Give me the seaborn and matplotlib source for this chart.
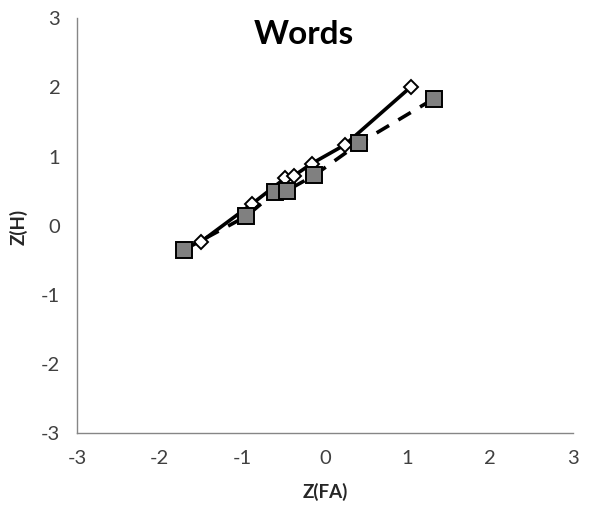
import matplotlib
matplotlib.use("Agg")
import pandas as pd
import seaborn as sns
import matplotlib.pyplot as plt

fa_words_a = [-1.50, -0.88, -0.48, -0.38, -0.16, 0.24, 1.04]
h_words_a = [-0.23, 0.32, 0.69, 0.72, 0.90, 1.17, 2.01]
fa_words_b = [-1.71, -0.95, -0.60, -0.46, -0.13, 0.41, 1.32]
h_words_b = [-0.35, 0.14, 0.49, 0.51, 0.73, 1.19, 1.84]
ticks = [-3, -2, -1, 0, 1, 2, 3]

dfA = pd.DataFrame({'FA': fa_words_a, 'H': h_words_a})
dfB = pd.DataFrame({'FA': fa_words_b, 'H': h_words_b})

sns.set_style('white')
plt.rcParams['font.family'] = ['Lato', 'DejaVu Sans']

fig = plt.figure(figsize=(5.94, 5.11), dpi=100)
ax = fig.add_axes([77 / 594, 1 - 433.3 / 511, 496 / 594, 415 / 511])

sns.lineplot(data=dfA, x='FA', y='H', sort=False, ax=ax, color='black',
             linewidth=2.6, marker='D', markersize=7.6,
             markerfacecolor='white', markeredgecolor='black', markeredgewidth=1.4, zorder=3)
sns.lineplot(data=dfB, x='FA', y='H', sort=False, ax=ax, color='black',
             linewidth=2.6, linestyle=(0, (4, 3)), marker='s', markersize=11.5,
             markerfacecolor='#808080', markeredgecolor='black', markeredgewidth=1.4, zorder=4)

ax.set_xlim(-3, 3)
ax.set_ylim(-3, 3)
ax.set_xticks(ticks)
ax.set_yticks(ticks)
ax.set_xticklabels([str(t) for t in ticks])
ax.set_yticklabels([str(t) for t in ticks])
ax.set_xlabel('')
ax.set_ylabel('')
for side in ['top', 'right']:
    ax.spines[side].set_visible(False)
for side in ['left', 'bottom']:
    ax.spines[side].set_color('#868686')
    ax.spines[side].set_linewidth(1.0)
ax.tick_params(axis='both', direction='out', length=5, width=1, color='#868686',
               labelsize=14.5, labelcolor='#404040', pad=7)

fig.text(304 / 594, 1 - 34 / 511, 'Words', ha='center', va='center',
         fontsize=24, fontweight='bold', color='black')
fig.text(325 / 594, 1 - 492 / 511, 'Z(FA)', ha='center', va='center',
         fontsize=13.5, fontweight='bold', color='#262626')
fig.text(19 / 594, 1 - 227 / 511, 'Z(H)', ha='center', va='center',
         rotation=90, fontsize=13.5, fontweight='bold', color='#262626')

plt.savefig('out.png', dpi=100)
